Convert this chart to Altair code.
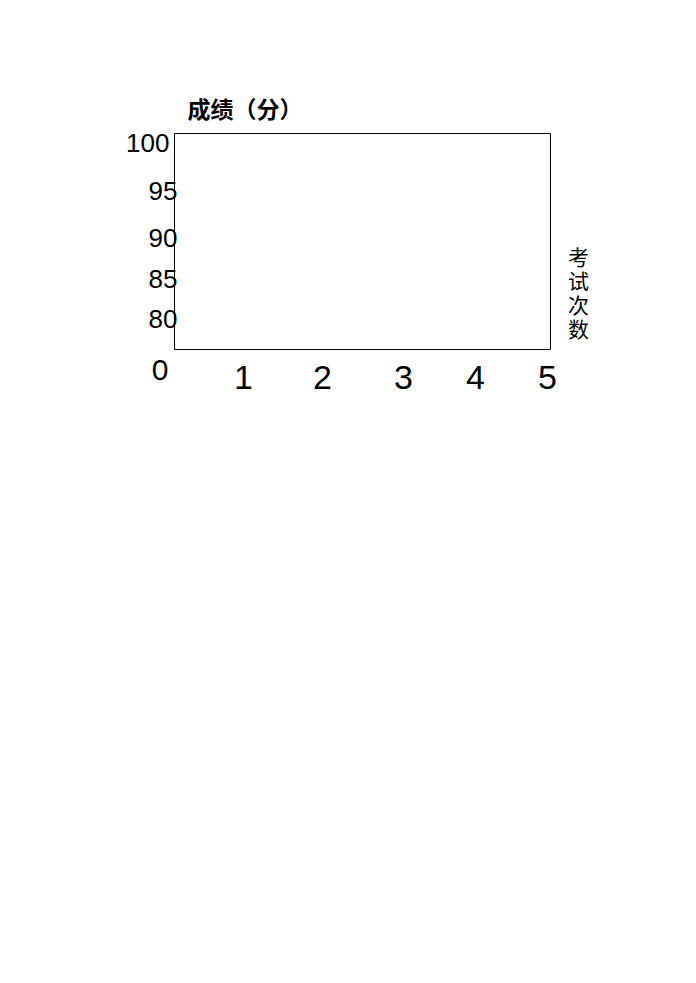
import altair as alt
import pandas as pd

# Data (empty worksheet chart: only axis ticks and labels)
x_ticks = [1, 2, 3, 4, 5]
y_ticks = [0, 80, 85, 90, 95, 100]
y_title = "成绩（分）"
x_title = ["考", "试", "次", "数"]

x_df = pd.DataFrame({"x": x_ticks})
y_df = pd.DataFrame({"y": y_ticks})

# hand-drawn, unevenly spaced tick positions (pixel range within the plot area)
x_scale = alt.Scale(domain=x_ticks, range=[69, 148, 229, 301, 373], clamp=False)
y_scale = alt.Scale(domain=y_ticks, range=[237, 186, 146, 105, 58, 10], clamp=False)

x_axis = alt.Axis(
    values=x_ticks, title=x_title, domain=False, ticks=False, grid=False,
    labelFont="Liberation Sans", labelFontSize=34, labelColor="black",
    labelPadding=12, labelAngle=0, labelFlush=False, labelOverlap=False,
    labelBound=False,
    titleFont="Noto Sans CJK SC", titleFontSize=21, titleFontWeight="normal",
    titleColor="black", titleLineHeight=24, titleAngle=0,
    titleAlign="center", titleBaseline="middle", titleX=404, titleY=-91,
)
y_axis = alt.Axis(
    values=y_ticks, title=y_title, domain=False, ticks=False, grid=False,
    labelFont="Liberation Sans",
    labelFontSize=alt.ExprRef("datum.value == 0 ? 30 : 26"),
    labelPadding=alt.ExprRef("datum.value == 0 ? 6 : (datum.value == 100 ? 5 : -3)"),
    labelColor="black", labelAlign="right", labelBaseline="middle",
    labelFlush=False, labelOverlap=False, labelBound=False,
    titleFont="Noto Sans CJK SC", titleFontSize=23, titleFontWeight="bold",
    titleColor="black", titleAngle=0, titleAlign="left", titleBaseline="middle",
    titleX=13, titleY=-23,
)

px = alt.Chart(x_df).mark_point(opacity=0).encode(
    x=alt.X("x:Q", scale=x_scale, axis=x_axis),
)
py = alt.Chart(y_df).mark_point(opacity=0).encode(
    y=alt.Y("y:Q", scale=y_scale, axis=y_axis),
)

chart = alt.layer(px, py).properties(
    width=376, height=216,
    autosize="none",
    background="white",
    padding={"left": 166, "top": 125, "right": 130, "bottom": 120},
).configure_view(
    stroke="black", strokeWidth=1,
)

chart.save("out.html", embed_options={"renderer": "svg", "actions": False})
